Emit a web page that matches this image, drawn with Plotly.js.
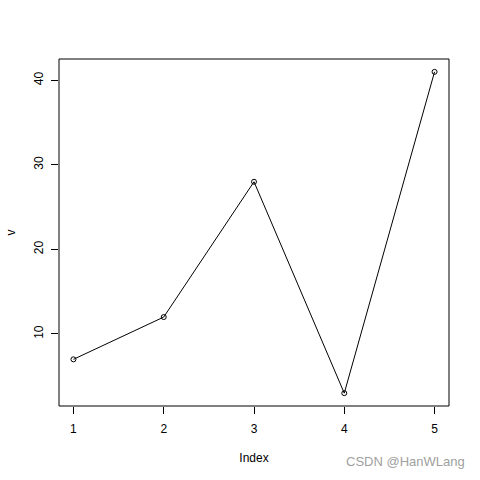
<!DOCTYPE html>
<html>
<head>
<meta charset="utf-8">
<script src="https://cdn.plot.ly/plotly-3.0.1.min.js"></script>
<style>html,body{margin:0;padding:0;background:#fff;}#chart{width:480px;height:480px;}</style>
</head>
<body>
<div id="chart"></div>
<script>
const indexValues = [1, 2, 3, 4, 5];
const vValues = [7, 12, 28, 3, 41];
const xTicks = [1, 2, 3, 4, 5];
const yTicks = [10, 20, 30, 40];

const font = {family: 'Liberation Sans, Arial, sans-serif', size: 12, color: '#000'};

const trace = {
  x: indexValues,
  y: vValues,
  type: 'scatter',
  mode: 'lines+markers',
  line: {color: '#000', width: 1},
  marker: {symbol: 'circle-open', size: 5, color: '#000', line: {width: 1, color: '#000'}},
  hoverinfo: 'none'
};

const layout = {
  width: 480, height: 480,
  margin: {l: 59, r: 31, t: 59, b: 74},
  paper_bgcolor: '#fff', plot_bgcolor: '#fff',
  showlegend: false,
  font: font,
  xaxis: {
    range: [0.84, 5.16],
    tickvals: xTicks, ticktext: xTicks.map(String),
    ticks: 'outside', ticklen: 7, tickwidth: 1, tickcolor: '#000',
    showgrid: false, zeroline: false,
    showline: false,
    tickfont: font,
    ticklabelstandoff: 5,
    title: {text: 'Index', font: font, standoff: 18}
  },
  yaxis: {
    range: [1.48, 42.52],
    tickvals: yTicks, ticktext: yTicks.map(String),
    tickangle: -90,
    ticks: 'outside', ticklen: 7, tickwidth: 1, tickcolor: '#000',
    showgrid: false, zeroline: false,
    showline: false,
    tickfont: font,
    ticklabelstandoff: 3,
    title: {text: 'v', font: font, standoff: 14}
  },
  shapes: [{type: 'rect', xref: 'paper', yref: 'paper', x0: 0, x1: 1, y0: 0, y1: 1,
            line: {color: '#000', width: 1}}],
  annotations: [{
    text: 'CSDN @HanWLang', xref: 'paper', yref: 'paper',
    x: 1.045, y: -0.16, xanchor: 'right', yanchor: 'middle', showarrow: false,
    font: {family: 'Liberation Sans, Arial, sans-serif', size: 13, color: '#a0a0a0'}
  }]
};

Plotly.newPlot('chart', [trace], layout, {displayModeBar: false, staticPlot: true});
</script>
</body>
</html>
